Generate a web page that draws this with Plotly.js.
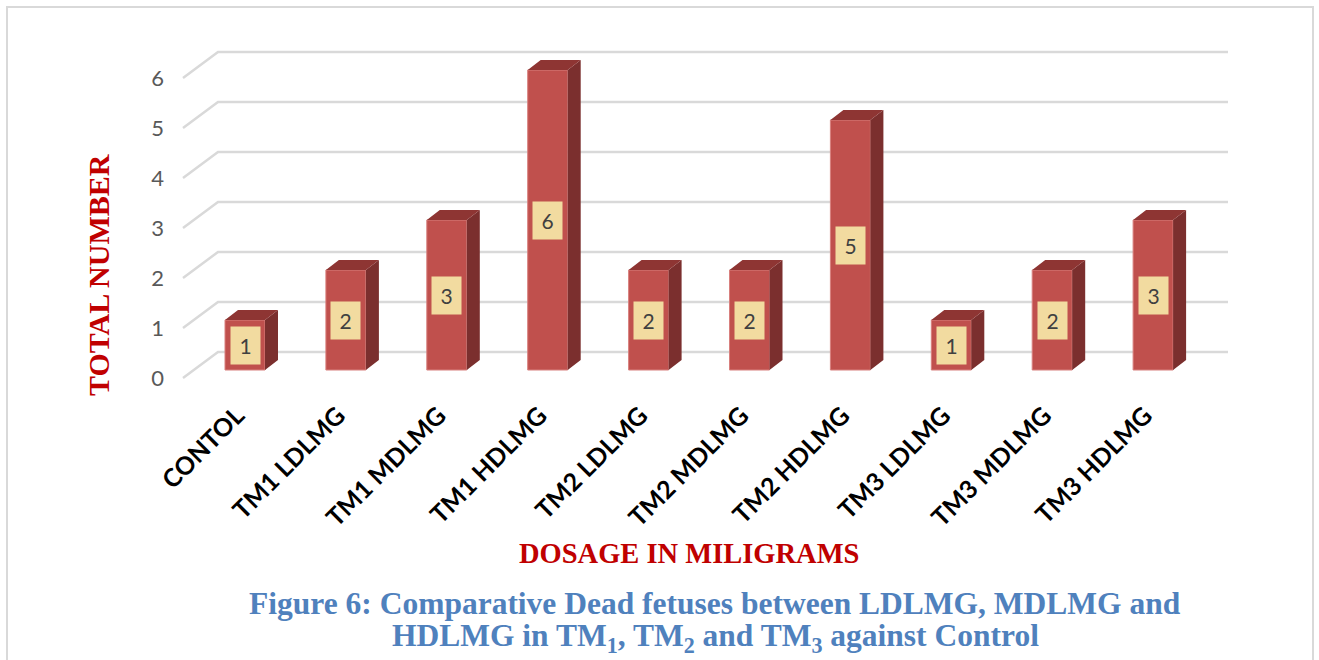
<!DOCTYPE html>
<html>
<head>
<meta charset="utf-8">
<script src="https://cdn.plot.ly/plotly-3.0.1.min.js"></script>
<style>html,body{margin:0;padding:0;background:#fff}#chart{width:1319px;height:660px}</style>
</head>
<body>
<div id="chart"></div>
<script>
// ---- data ----
const categories = ["CONTOL","TM1 LDLMG","TM1 MDLMG","TM1 HDLMG","TM2 LDLMG","TM2 MDLMG","TM2 HDLMG","TM3 LDLMG","TM3 MDLMG","TM3 HDLMG"];
const deadFetuses = [1,2,3,6,2,2,5,1,2,3];
const yTickValues = [0,1,2,3,4,5,6];
const yTitle = "TOTAL NUMBER";
const xTitle = "DOSAGE IN MILIGRAMS";
const captionLine1 = "Figure 6: Comparative Dead fetuses between LDLMG, MDLMG and";
const captionLine2 = "HDLMG in TM<sub>1</sub>, TM<sub>2</sub> and TM<sub>3</sub> against Control";

// ---- geometry (pixels) ----
const FIG_W = 1319, FIG_H = 660;
const plotL = 165, plotR = 1250, plotT = 30, plotB = 395;
const cat0Px = 245, pxPerCat = 100.9;
const zeroPx = 378, pxPerUnit = 50;
const xRange = [(plotL - cat0Px) / pxPerCat, (plotR - cat0Px) / pxPerCat];
const yRange = [(zeroPx - plotB) / pxPerUnit, (zeroPx - plotT) / pxPerUnit];

// 3D offsets in data units
const wallDx = 35 / pxPerCat, wallDy = 26 / pxPerUnit;
const gridX0 = (183 - cat0Px) / pxPerCat;
const gridX1 = (1228 - cat0Px) / pxPerCat;
const barBase = 8 / pxPerUnit;
const barHalf = 20 / pxPerCat;
const depthDx = 13 / pxPerCat, depthDy = 10 / pxPerUnit;
const labelShift = 8 / pxPerCat;   // rotated tick labels sit slightly left of bar centres

const idx = categories.map((_, i) => i);

// grid lines (floor diagonal + back wall), drawn under the bars
const gridShapes = [];
yTickValues.forEach(v => {
  gridShapes.push({type: "path", xref: "x", yref: "y", layer: "below",
    path: `M${gridX0},${v} L${gridX0 + wallDx},${v + wallDy} L${gridX1},${v + wallDy}`,
    line: {color: "#d9d9d9", width: 2.5}});
});

// side & top faces
const sx = [], sy = [], tx = [], ty = [];
deadFetuses.forEach((v, i) => {
  const r = i + barHalf, l = i - barHalf, top = barBase + v;
  sx.push(r, r + depthDx, r + depthDx, r, r, null);
  sy.push(barBase, barBase + depthDy, top + depthDy, top, barBase, null);
  tx.push(l, l + depthDx, r + depthDx, r, l, null);
  ty.push(top, top + depthDy, top + depthDy, top, top, null);
});

const traces = [
  {type: "bar", x: idx, y: deadFetuses, base: deadFetuses.map(() => barBase), width: 2 * barHalf,
   marker: {color: "#c0504d", line: {color: "#d8807e", width: 1}}, hoverinfo: "skip", showlegend: false},
  {type: "scatter", mode: "lines", x: sx, y: sy, fill: "toself", fillcolor: "#7b2f2e", line: {width: 0, color: "#7b2f2e"}, hoverinfo: "skip", showlegend: false},
  {type: "scatter", mode: "lines", x: tx, y: ty, fill: "toself", fillcolor: "#8e3533", line: {width: 0, color: "#8e3533"}, hoverinfo: "skip", showlegend: false}
];

const pw = plotR - plotL, ph = plotB - plotT;
const px2x = p => (p - plotL) / pw;
const px2y = p => (plotB - p) / ph;

const annotations = deadFetuses.map((v, i) => ({
  x: i, y: barBase + v / 2, xref: "x", yref: "y", text: String(v), showarrow: false,
  xanchor: "center", yanchor: "middle",
  bgcolor: "#f2dba0", width: 29, height: 37, borderpad: 0,
  font: {family: "Lato, Carlito, sans-serif", size: 21, color: "#404040"}
}));
annotations.push(
  {x: px2x(98), y: px2y(275), xref: "paper", yref: "paper", xanchor: "center", yanchor: "middle",
   text: yTitle, textangle: -90, showarrow: false,
   font: {family: "Liberation Serif, serif", size: 30, color: "#c00000", weight: "bold"}},
  {x: px2x(689), y: px2y(553), xref: "paper", yref: "paper", xanchor: "center", yanchor: "middle",
   text: xTitle, showarrow: false,
   font: {family: "Liberation Serif, serif", size: 28.5, color: "#c00000", weight: "bold"}},
  {x: px2x(715), y: px2y(603), xref: "paper", yref: "paper", xanchor: "center", yanchor: "middle",
   text: captionLine1, showarrow: false,
   font: {family: "Liberation Serif, serif", size: 31.5, color: "#4f81bd", weight: "bold"}},
  {x: px2x(715), y: px2y(638), xref: "paper", yref: "paper", xanchor: "center", yanchor: "middle",
   text: captionLine2, showarrow: false,
   font: {family: "Liberation Serif, serif", size: 31.5, color: "#4f81bd", weight: "bold"}}
);

const layout = {
  width: FIG_W, height: FIG_H,
  margin: {l: plotL, r: FIG_W - plotR, t: plotT, b: FIG_H - plotB, pad: 0},
  paper_bgcolor: "#ffffff", plot_bgcolor: "rgba(0,0,0,0)",
  xaxis: {range: xRange, tickvals: idx.map(i => i - labelShift), ticktext: categories, tickangle: -45,
          tickfont: {family: "Lato, Carlito, sans-serif", size: 25, color: "#000000", weight: "bold"},
          showgrid: false, zeroline: false, showline: false, ticks: "", fixedrange: true},
  yaxis: {range: yRange, tickvals: yTickValues, ticktext: yTickValues.map(String),
          tickfont: {family: "Lato, Carlito, sans-serif", size: 22, color: "#595959"},
          showgrid: false, zeroline: false, showline: false, ticks: "", fixedrange: true},
  bargap: 0,
  showlegend: false,
  annotations: annotations,
  shapes: gridShapes.concat([{type: "rect", xref: "paper", yref: "paper",
            x0: px2x(7), x1: px2x(1313), y0: px2y(680), y1: px2y(7),
            line: {color: "#d9d9d9", width: 2}, fillcolor: "rgba(0,0,0,0)", layer: "below"}])
};

Plotly.newPlot("chart", traces, layout, {staticPlot: true, displayModeBar: false});
</script>
</body>
</html>
